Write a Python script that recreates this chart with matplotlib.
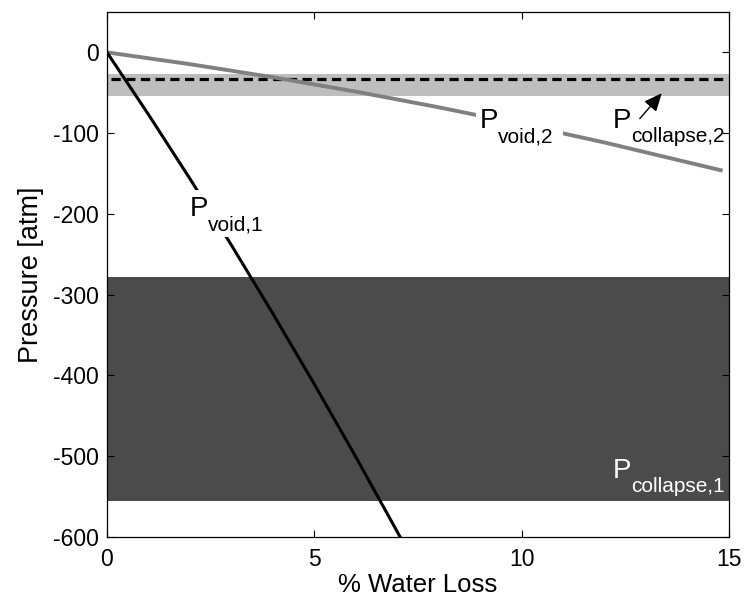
import matplotlib
matplotlib.use("Agg")
import matplotlib.pyplot as plt
from matplotlib.patches import Rectangle
from matplotlib.transforms import offset_copy, ScaledTranslation

plt.rcParams['font.family'] = ['Liberation Sans', 'DejaVu Sans']
plt.rcParams['axes.unicode_minus'] = False

# Void pressure curves (% water loss vs pressure in atm)
loss_1 = [0, 1, 2, 3, 4, 5, 6, 7.07]
p_void_1 = [0, -76.9, -156.4, -238.6, -323.4, -410.8, -500.8, -600]

loss_2 = [0, 2, 4, 6, 8, 10, 12, 14.8]
p_void_2 = [0, -14.6, -30.8, -48.6, -68.0, -89.0, -111.6, -145.9]

# Collapse pressure ranges
collapse_1_range = (-555, -278)
collapse_2_range = (-54, -27)
collapse_2_mean = -33

x_ticks = [0, 5, 10, 15]
y_ticks = [-600, -500, -400, -300, -200, -100, 0]

fig = plt.figure(figsize=(7.46, 5.99), dpi=100)
ax = fig.add_axes([0.1434, 0.1035, 0.8338, 0.8765])

ax.axhspan(*collapse_1_range, color='#4b4b4b', lw=0, zorder=1)
ax.axhspan(*collapse_2_range, color='#bebebe', lw=0, zorder=1)
ax.plot([0.1, 14.85], [collapse_2_mean, collapse_2_mean], color='black', lw=2.3,
        dashes=(2.9, 1.7), zorder=2)

ax.plot(loss_2, p_void_2, color='#808080', lw=2.8, zorder=3)
ax.plot(loss_1, p_void_1, color='black', lw=2.2, zorder=3)


def pressure_label(x, y, sub, color='black', boxed=False):
    """Draw 'P' with a lowered subscript, optionally on a white patch."""
    if boxed:
        # white patch sized in points, anchored at the label's baseline
        anchor = fig.dpi_scale_trans + ScaledTranslation(x, y, ax.transData)
        ax.add_patch(Rectangle((-3 / 72, -15 / 72), (17 + 7.6 * len(sub)) / 72,
                               34 / 72, transform=anchor, facecolor='white',
                               edgecolor='none', zorder=3.5))
    ax.text(x, y, 'P', fontsize=20, ha='left', va='baseline', color=color,
            zorder=4)
    tr = offset_copy(ax.transData, fig=fig, x=13.0, y=-10.0, units='points')
    ax.text(x, y, sub, fontsize=15, ha='left', va='baseline', color=color,
            transform=tr, zorder=4)


pressure_label(2.0, -203, 'void,1', boxed=True)
pressure_label(9.0, -94, 'void,2', boxed=True)
pressure_label(12.2, -94, 'collapse,2')
pressure_label(12.2, -527, 'collapse,1', color='white')

ax.annotate('', xy=(13.38, -50.5), xytext=(12.85, -82),
            arrowprops=dict(arrowstyle='-|>,head_length=0.5,head_width=0.22',
                            color='black', lw=1, mutation_scale=22,
                            shrinkA=0, shrinkB=0), zorder=5)

ax.set_xlim(0, 15)
ax.set_ylim(-600, 50)
ax.set_xticks(x_ticks)
ax.set_yticks(y_ticks)
ax.tick_params(direction='in', top=True, right=True, labelsize=16.5, length=5,
               width=0.8, pad=6)
ax.tick_params(axis='x', pad=8)
for s in ax.spines.values():
    s.set_linewidth(0.9)
    s.set_zorder(6)

ax.set_xlabel('% Water Loss', fontsize=18.5, labelpad=1)
ax.set_ylabel('Pressure [atm]', fontsize=19.5, labelpad=6)

fig.savefig('out.png', dpi=100)
